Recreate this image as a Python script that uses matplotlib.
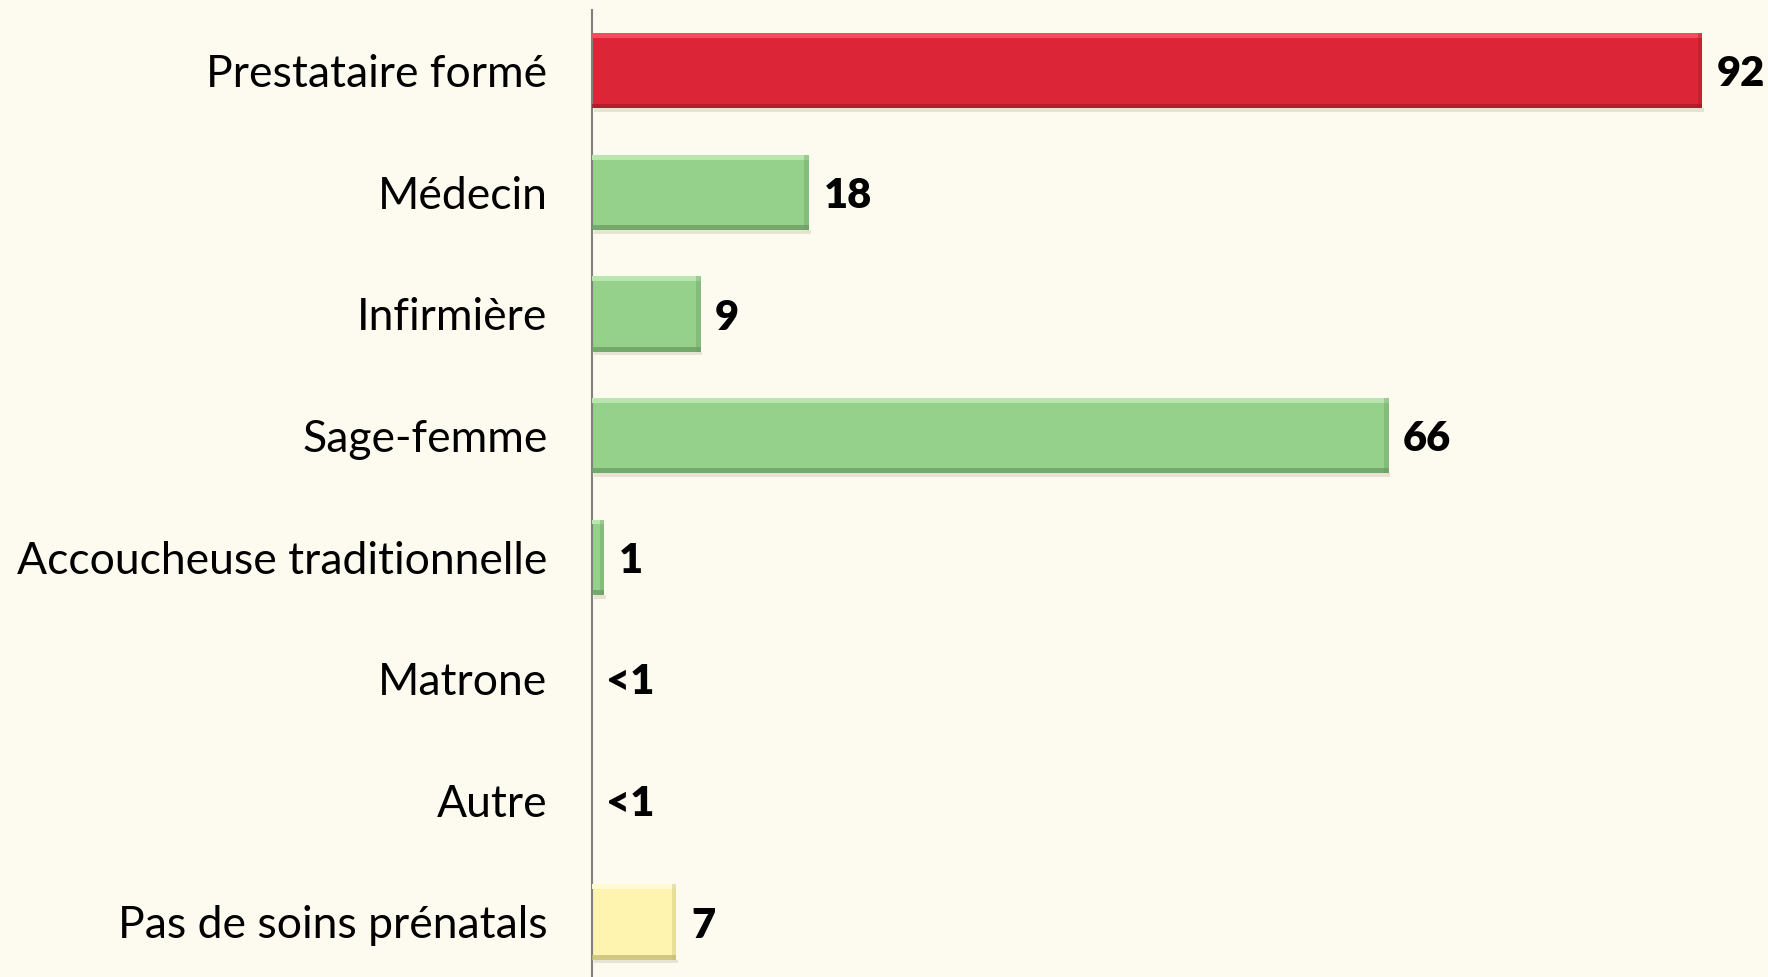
import matplotlib.pyplot as plt
from matplotlib.patches import Rectangle

categories = ["Prestataire formé", "Médecin", "Infirmière", "Sage-femme",
              "Accoucheuse traditionnelle", "Matrone", "Autre",
              "Pas de soins prénatals"]
values = [92, 18, 9, 66, 1, 0, 0, 7]
value_labels = ["92", "18", "9", "66", "1", "<1", "<1", "7"]
bar_colors = ["#DC2537", "#95D18B", "#95D18B", "#95D18B", "#95D18B",
              "#95D18B", "#95D18B", "#FFF3B0"]
edge_colors = ["#A81C2A", "#6E9E66", "#6E9E66", "#6E9E66", "#6E9E66",
               "#6E9E66", "#6E9E66", "#C9BC7A"]
top_colors = ["#F04E5E", "#B8E6AE", "#B8E6AE", "#B8E6AE", "#B8E6AE",
              "#B8E6AE", "#B8E6AE", "#FFF9D4"]

BG = "#FDFBF0"
W, H = 1768, 977
fig = plt.figure(figsize=(W / 100, H / 100), dpi=100, facecolor=BG)

# axes placed in pixel terms: axis line at x=592, top band starts at y=10
px_per_unit = 12.07
pitch = 121.6
n = len(categories)
top_px, bot_px = 10, 10 + pitch * n
ax = fig.add_axes([592 / W, 1 - bot_px / H, 1 - 592 / W, (bot_px - top_px) / H])
ax.set_facecolor(BG)
ax.set_xlim(0, (W - 592) / px_per_unit)
ax.set_ylim(n - 0.5, -0.5)

height = 0.62
ypos = list(range(n))
ax.barh(ypos, values, height=height, color=bar_colors, edgecolor="none", zorder=2)

# simple bevel: light top strip, dark bottom/right edges, soft shadow
for y, v, c, ec, tc in zip(ypos, values, bar_colors, edge_colors, top_colors):
    if v <= 0:
        continue
    bev = 0.04
    xb = min(0.4, v * 0.3)
    ax.add_patch(Rectangle((0.15, y + height / 2), v, 0.03, color="#D8D4C0",
                           alpha=0.6, zorder=1, lw=0))
    ax.add_patch(Rectangle((0, y - height / 2), v, bev, color=tc, zorder=3, lw=0))
    ax.add_patch(Rectangle((0, y + height / 2 - bev), v, bev, color=ec,
                           alpha=0.8, zorder=3, lw=0))
    ax.add_patch(Rectangle((v - xb, y - height / 2), xb, height, color=ec,
                           alpha=0.4, zorder=3, lw=0))

for y, v, lab in zip(ypos, values, value_labels):
    ax.text(v + 1.2, y + 0.03, lab, va="center", ha="left", fontsize=30,
            fontweight="heavy", family="Lato", color="black", zorder=4)

ax.set_yticks(ypos)
ax.set_yticklabels(categories, fontsize=32, family="Lato")
ax.tick_params(axis="y", length=0, pad=32)
ax.set_xticks([])
for s in ["top", "right", "bottom"]:
    ax.spines[s].set_visible(False)
ax.spines["left"].set_color("#808080")
ax.spines["left"].set_linewidth(1.5)

fig.savefig("out.png", dpi=100, facecolor=BG)
